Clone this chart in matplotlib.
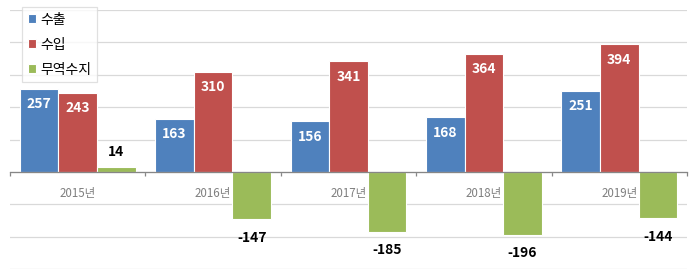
import matplotlib
matplotlib.use("Agg")
import matplotlib.pyplot as plt
import numpy as np

plt.rcParams['font.family'] = ['Noto Sans CJK KR', 'DejaVu Sans']

categories = ["2015년", "2016년", "2017년", "2018년", "2019년"]
exports = [257, 163, 156, 168, 251]
imports = [243, 310, 341, 364, 394]
balance = [14, -147, -185, -196, -144]
series_names = ["수출", "수입", "무역수지"]
colors = ["#4F81BD", "#C0504D", "#9BBB59"]

W, H = 697, 279
fig = plt.figure(figsize=(W / 100, H / 100), dpi=100)
ax = fig.add_axes([10 / W, 1 - 269 / H, 677 / W, 259 / H])

x = np.arange(len(categories))
bw = 0.285
offs = [-bw, 0, bw]
data = [exports, imports, balance]

for k, (vals, col, name) in enumerate(zip(data, colors, series_names)):
    bars = ax.bar(x + offs[k], vals, width=bw, color=col, edgecolor="white",
                  linewidth=0.8, label=name, zorder=3)
    for xi, v in zip(x + offs[k], vals):
        if k < 2:
            ax.annotate(str(v), (xi, v), xytext=(0, -11), textcoords="offset points",
                        ha="center", va="center", color="white", fontsize=10,
                        fontweight="bold", zorder=4)
        else:
            off = 11 if v >= 0 else -13
            ax.annotate(str(v), (xi, v), xytext=(0, off), textcoords="offset points",
                        ha="center", va="center", color="black", fontsize=10,
                        fontweight="bold", zorder=4)

ax.set_xlim(-0.5, 4.5)
ax.set_ylim(-300, 500)
ax.set_yticks(np.arange(-300, 501, 100))
ax.yaxis.grid(True, color="#D9D9D9", linewidth=0.9, zorder=0)
ax.tick_params(axis="y", left=False, labelleft=False)
for s in ["left", "right", "top"]:
    ax.spines[s].set_visible(False)
ax.spines["bottom"].set_position(("data", 0))
ax.spines["bottom"].set_color("#868686")
ax.spines["bottom"].set_linewidth(0.9)
ax.spines["bottom"].set_zorder(5)

ax.set_xticks(np.arange(-0.5, 5, 1.0))
ax.set_xticklabels([])
ax.tick_params(axis="x", which="major", direction="out", length=3, color="#868686", width=0.9)
ax.set_xticks(x, minor=True)
ax.set_xticklabels(categories, minor=True)
ax.tick_params(axis="x", which="minor", length=0, pad=11, labelsize=8.3, labelcolor="#7F7F7F")

leg = ax.legend(loc="upper left", bbox_to_anchor=(22 / W, 1 - 7 / H), bbox_transform=fig.transFigure,
                fontsize=10, frameon=True, fancybox=False, handlelength=0.6, handleheight=0.6,
                handletextpad=0.3, labelspacing=0.8, borderpad=0.4, borderaxespad=0)
leg.get_frame().set_edgecolor("#D9D9D9")
leg.get_frame().set_linewidth(0.9)
for h in leg.legend_handles:
    h.set_edgecolor("white")

fig.savefig("out.png", dpi=100)
